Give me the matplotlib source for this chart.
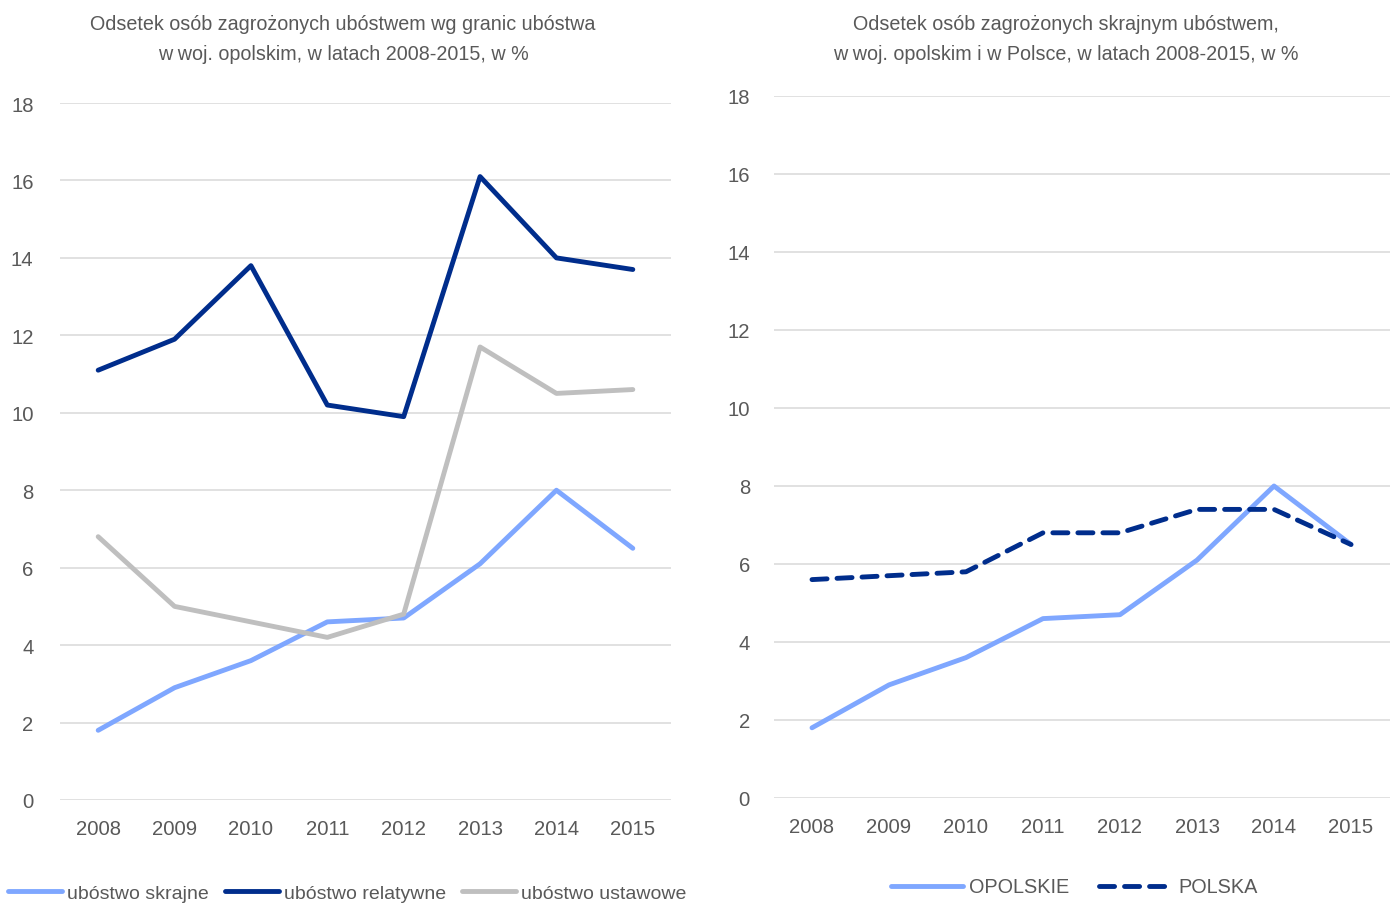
import matplotlib
matplotlib.use('Agg')
import matplotlib.pyplot as plt
from matplotlib import font_manager

# font: condensed look like Arial Narrow if available
names = {f.name for f in font_manager.fontManager.ttflist}
fam = 'Liberation Sans Narrow' if 'Liberation Sans Narrow' in names else 'Liberation Sans'
plt.rcParams['font.family'] = [fam, 'DejaVu Sans']

years = ['2008', '2009', '2010', '2011', '2012', '2013', '2014', '2015']

# left chart
skrajne = [1.8, 2.9, 3.6, 4.6, 4.7, 6.1, 8.0, 6.5]
relatywne = [11.1, 11.9, 13.8, 10.2, 9.9, 16.1, 14.0, 13.7]
ustawowe = [6.8, 5.0, 4.6, 4.2, 4.8, 11.7, 10.5, 10.6]

# right chart
opolskie = [1.8, 2.9, 3.6, 4.6, 4.7, 6.1, 8.0, 6.5]
polska = [5.6, 5.7, 5.8, 6.8, 6.8, 7.4, 7.4, 6.5]

yticks = [0, 2, 4, 6, 8, 10, 12, 14, 16, 18]

title_left = 'Odsetek osób zagrożonych ubóstwem wg granic ubóstwa\nw woj. opolskim, w latach 2008-2015, w %'
title_right = 'Odsetek osób zagrożonych skrajnym ubóstwem,\nw woj. opolskim i w Polsce, w latach 2008-2015, w %'

LIGHT = '#7FA7FF'
DARK = '#002D8C'
GREY = '#BFBFBF'
GRID = '#D9D9D9'
TXT = '#595959'

W, H = 1397, 904
fig = plt.figure(figsize=(W / 100, H / 100), dpi=100)

ax1 = fig.add_axes([60 / W, 1 - 801 / H, 611 / W, 697 / H])
ax2 = fig.add_axes([773.5 / W, 1 - 799 / H, 616 / W, 702 / H])

x = range(len(years))
lw = 3.5

l1, = ax1.plot(x, skrajne, color=LIGHT, lw=lw, solid_capstyle='round', label='ubóstwo skrajne')
l2, = ax1.plot(x, relatywne, color=DARK, lw=lw, solid_capstyle='round', label='ubóstwo relatywne')
l3, = ax1.plot(x, ustawowe, color=GREY, lw=lw, solid_capstyle='round', label='ubóstwo ustawowe')
l3.set_zorder(2.5)

r1, = ax2.plot(x, opolskie, color=LIGHT, lw=lw, solid_capstyle='round', label='OPOLSKIE')
r2, = ax2.plot(x, polska, color=DARK, lw=lw, dashes=(3.1, 2.05), dash_capstyle='round',
               label='POLSKA')

for ax in (ax1, ax2):
    ax.set_xlim(-0.5, len(years) - 0.5)
    ax.set_ylim(0, 18)
    ax.set_yticks(yticks)
    ax.set_xticks(list(x))
    ax.set_xticklabels(years)
    ax.grid(axis='y', color=GRID, lw=1.1)
    ax.set_axisbelow(True)
    for s in ax.spines.values():
        s.set_visible(False)
    ax.tick_params(length=0, colors=TXT, labelsize=14.6)
    ax.tick_params(axis='x', pad=14)

ax1.tick_params(axis='y', pad=19)
ax2.tick_params(axis='y', pad=17)

fig.text(343 / W, 1 - 39.5 / H, title_left, ha='center', va='center', color=TXT,
         fontsize=14.2, linespacing=1.68)
fig.text(1066 / W, 1 - 39.5 / H, title_right, ha='center', va='center', color=TXT,
         fontsize=14.2, linespacing=1.68)

leg1 = fig.legend(handles=[l1, l2, l3], loc='center left', bbox_to_anchor=(8 / W, 1 - 894 / H),
                  ncol=3, frameon=False, fontsize=14.0, labelcolor=TXT, handlelength=2.8,
                  handletextpad=0.25, columnspacing=0.8, borderaxespad=0, borderpad=0)
leg2 = fig.legend(handles=[r1, r2], loc='center left', bbox_to_anchor=(891 / W, 1 - 888 / H),
                  ncol=2, frameon=False, fontsize=14.3, labelcolor=TXT, handlelength=3.6,
                  handletextpad=0.35, columnspacing=1.5, borderaxespad=0, borderpad=0)

fig.savefig('out.png', dpi=100)
